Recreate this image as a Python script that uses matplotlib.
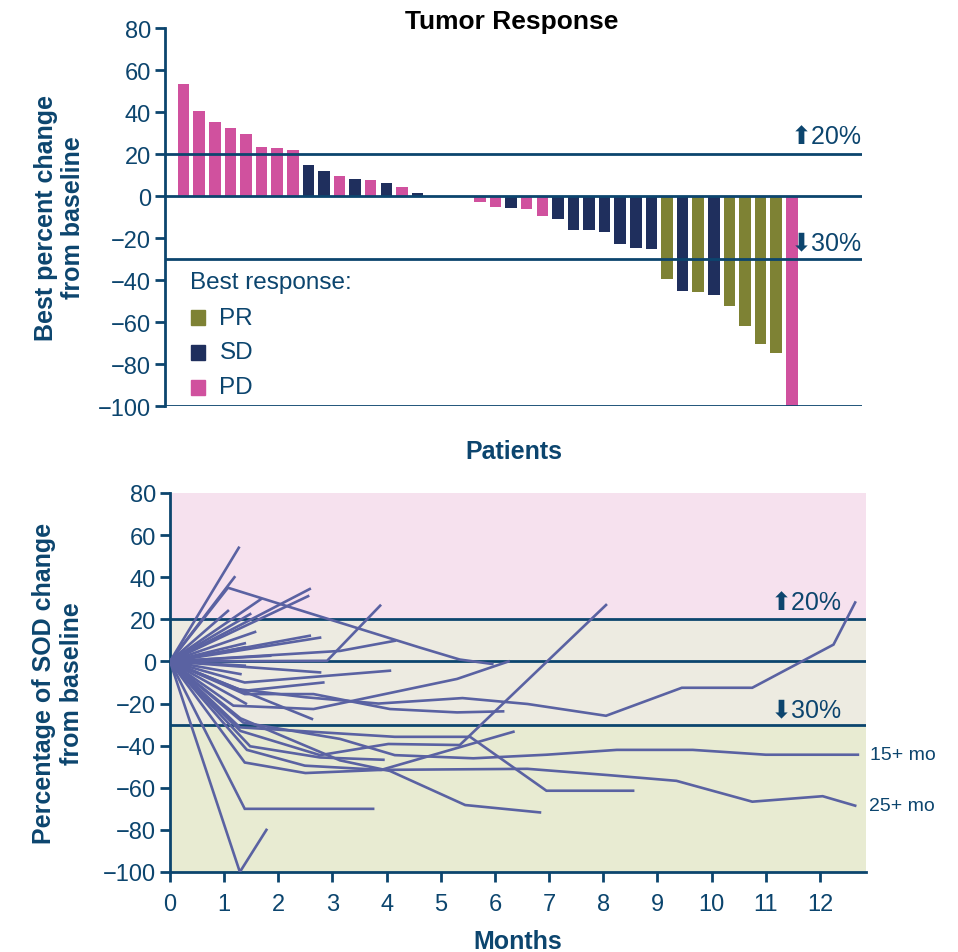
import matplotlib
matplotlib.use("Agg")
import matplotlib.pyplot as plt
from matplotlib.patches import Rectangle

# ---------------- data ----------------
best_change = [53.5, 40.5, 35.1, 32.5, 29.7, 23.3, 22.7, 21.7,
               14.8, 11.9, 9.4, 8.1, 7.8, 6.2, 4.4, 1.4,
               0, 0, 0,
               -2.7, -5.4, -5.9, -6.2, -9.4, -11.0, -16.0, -16.3, -17.0,
               -22.9, -24.6, -25.4, -39.5, -45.1, -45.9, -47.0, -52.2,
               -62.0, -70.6, -74.6, -100.0]
best_response = ["PD"] * 8 + ["SD", "SD", "PD", "SD", "PD", "SD", "PD", "SD"] + \
                ["SD"] * 3 + \
                ["PD", "PD", "SD", "PD", "PD", "SD", "SD", "SD", "SD", "SD", "SD", "SD",
                 "PR", "SD", "PR", "SD", "PR", "PR", "PR", "PR", "PD"]
response_colors = {"PR": "#7E8234", "SD": "#1F2F5D", "PD": "#D0519E"}
legend_order = ["PR", "SD", "PD"]

# SOD change over time, one (months, values) pair per patient
sod_months = [
    [0, 1.27], [0, 1.19], [0, 1.07, 4.6, 5.35, 5.95], [0, 2.58], [0, 2.55],
    [0, 1.68], [0, 1.07], [0, 1.57], [0, 2.58], [0, 2.77], [0, 1.38], [0, 1.38],
    [0, 1.48], [0, 2.9, 3.88], [0, 3.14, 4.15], [0, 1.85], [0, 1.38],
    [0, 2.77], [0, 1.38, 4.06], [0, 1.35, 2.83],
    [0, 1.2, 2.5, 3.85, 5.4, 6.6, 8.05, 9.45, 10.75, 12.25, 12.65],
    [0, 1.17, 2.65, 5.3, 6.25],
    [0, 1.38, 2.65, 4.06, 5.3, 6.15],
    [0, 2.62],
    [0, 1.29, 4.15, 5.54, 6.95, 8.55],
    [0, 1.48, 2.77, 3.94],
    [0, 1.3, 2.77, 4.03, 5.35, 8.05],
    [0, 1.3, 3.14, 4.06, 5.45, 6.83],
    [0, 1.38, 2.5, 3.9, 6.34],
    [0, 1.42, 2.49, 3.9, 6.6, 8.1, 9.35, 10.75, 12.05, 12.65],
    [0, 1.35, 3.14, 4.15, 5.6, 6.95, 8.25, 9.65, 11.0, 12.7],
    [0, 1.38, 3.75],
    [0, 1.29, 1.78],
    [0, 1.3],
    [0, 1.4],
]
sod_values = [
    [0, 54], [0, 40], [0, 35, 6.7, 0.9, -1.2], [0, 34.4], [0, 31],
    [0, 29.6], [0, 24], [0, 14], [0, 12.2], [0, 11.3], [0, 8.6], [0, 6.7],
    [0, 22.5], [0, 0.3, 26.5], [0, 5, 9.8], [0, 2.7], [0, -2],
    [0, -5.2], [0, -10, -4.4], [0, -14, -10],
    [0, -13, -17, -20, -17.4, -20.2, -25.8, -12.5, -12.5, 8, 28],
    [0, -21, -22.6, -8.3, 0],
    [0, -15.5, -15.5, -22.6, -24.2, -23.7],
    [0, -27.3],
    [0, -31.3, -35.8, -35.8, -61.4, -61.4],
    [0, -40.3, -45.6, -46.7],
    [0, -33, -44.5, -39.2, -39.7, 26.8],
    [0, -27, -47, -52, -68.2, -71.7],
    [0, -48, -53, -51.5, -33.4],
    [0, -42, -49.5, -51.5, -51, -54, -56.7, -66.6, -64, -68.5],
    [0, -29, -36.8, -44.5, -46, -44.3, -42, -42, -44.3, -44.3],
    [0, -70, -70],
    [0, -100, -80],
    [0, -6],
    [0, -20],
]
month_ticks = list(range(0, 13))
y_ticks = [80, 60, 40, 20, 0, -20, -40, -60, -80, -100]
y_ticklabels = ["80", "60", "40", "20", "0", "\u221220", "\u221240", "\u221260", "\u221280", "\u2212100"]

# ---------------- style ----------------
NAVY = "#0C456E"
LINE = "#5A62A2"
FONT = ["Liberation Sans", "DejaVu Sans"]
plt.rcParams["font.family"] = FONT

fig = plt.figure(figsize=(9.58, 9.53), dpi=100)

# ---------------- top: waterfall ----------------
ax1 = fig.add_axes([165 / 958, 1 - 407 / 953, (862 - 165) / 958, (407 - 29) / 953])
xs = list(range(len(best_change)))
ax1.bar(xs, best_change, width=0.74,
        color=[response_colors[r] for r in best_response], zorder=3)
ax1.set_xlim(-1.19, 43.5)
ax1.set_ylim(-100, 80)
for yv in [20, 0, -30, -100]:
    ax1.axhline(yv, color=NAVY, lw=2.0, zorder=4)
for s in ["top", "right", "bottom"]:
    ax1.spines[s].set_visible(False)
ax1.spines["left"].set_color(NAVY)
ax1.spines["left"].set_linewidth(2.0)
ax1.set_xticks([])
ax1.set_yticks(y_ticks)
ax1.set_yticklabels(y_ticklabels)
ax1.tick_params(axis="y", colors=NAVY, labelsize=17, length=7, width=2, pad=3)
ax1.set_ylabel("Best percent change\nfrom baseline", fontsize=18, fontweight="bold",
               color=NAVY, labelpad=9, linespacing=1.2)
ax1.set_xlabel("Patients", fontsize=18, fontweight="bold", color=NAVY, labelpad=24)
fig.text(512 / 958, 1 - 22 / 953, "Tumor Response", fontsize=19, fontweight="bold",
         color="black", ha="center", va="center")

ax1.text(43.5, 28.6, "\u2b0620%", ha="right", va="center", fontsize=18, color=NAVY,
         family=FONT)
ax1.text(43.5, -21.9, "\u2b0730%", ha="right", va="center", fontsize=18, color=NAVY,
         family=FONT)

# legend
ax1.text(0.4, -41, "Best response:", fontsize=17.5, color=NAVY, va="center", ha="left")
for i, key in enumerate(legend_order):
    yc = -58 - i * 16.5
    ax1.add_patch(Rectangle((0.45, yc - 3.6), 0.95, 7.2, color=response_colors[key],
                            zorder=3))
    ax1.text(2.3, yc, key, fontsize=17.5, color=NAVY, va="center", ha="left")

# ---------------- bottom: spider plot ----------------
ax2 = fig.add_axes([170 / 958, 1 - 873 / 953, (866 - 170) / 958, (873 - 494) / 953])
ax2.set_xlim(0, 12.85)
ax2.set_ylim(-100, 80)
ax2.axhspan(20, 80, color="#F6E1EE", zorder=0, lw=0)
ax2.axhspan(-30, 20, color="#EDEBE1", zorder=0, lw=0)
ax2.axhspan(-100, -30, color="#E8EBD2", zorder=0, lw=0)
for yv in [20, 0, -30]:
    ax2.axhline(yv, color=NAVY, lw=2.0, zorder=2)
for mx, vy in zip(sod_months, sod_values):
    ax2.plot(mx, vy, color=LINE, lw=1.9, zorder=3, solid_joinstyle="miter")
for s in ["top", "right"]:
    ax2.spines[s].set_visible(False)
for s in ["left", "bottom"]:
    ax2.spines[s].set_color(NAVY)
    ax2.spines[s].set_linewidth(2.0)
ax2.set_xticks(month_ticks)
ax2.set_yticks(y_ticks)
ax2.set_yticklabels(y_ticklabels)
ax2.tick_params(colors=NAVY, labelsize=17, length=7, width=2, pad=3)
ax2.tick_params(axis="x", pad=8)
ax2.set_ylabel("Percentage of SOD change\nfrom baseline", fontsize=18, fontweight="bold",
               color=NAVY, labelpad=14, linespacing=1.2)
ax2.set_xlabel("Months", fontsize=18, fontweight="bold", color=NAVY, labelpad=10)

ax2.text(12.4, 28.2, "\u2b0620%", ha="right", va="center", fontsize=18, color=NAVY,
         family=FONT)
ax2.text(12.4, -22.6, "\u2b0730%", ha="right", va="center", fontsize=18, color=NAVY,
         family=FONT)
ax2.text(12.93, -44.3, "15+ mo", ha="left", va="center", fontsize=14, color=NAVY,
         clip_on=False)
ax2.text(12.9, -68.5, "25+ mo", ha="left", va="center", fontsize=14, color=NAVY,
         clip_on=False)

fig.savefig("out.png", dpi=100)
